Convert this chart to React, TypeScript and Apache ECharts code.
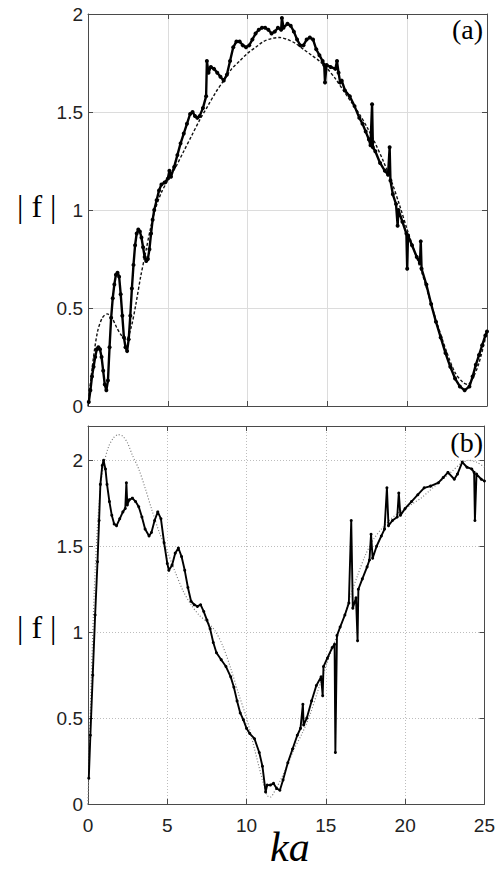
import React, { useEffect, useRef } from "react";
import * as echarts from "echarts";

const xTicks = [0, 5, 10, 15, 20, 25];
const panelLabels = ["(a)", "(b)"];
const yLabel = "| f |";
const xLabel = "ka";

// Panel (a): dashed reference curve
const aSmooth: number[][] = [
  [0, 0], [0.3, 0.22], [0.6, 0.38], [0.9, 0.45], [1.2, 0.47], [1.5, 0.45], [1.8, 0.4], [2.1, 0.36],
  [2.4, 0.34], [2.7, 0.4], [3.0, 0.52], [3.3, 0.66], [3.6, 0.78], [3.9, 0.9], [4.2, 1.0], [4.6, 1.09],
  [5.0, 1.15], [5.5, 1.22], [6, 1.3], [6.5, 1.38], [7, 1.46], [7.5, 1.53], [8, 1.6], [8.5, 1.66],
  [9, 1.72], [9.5, 1.76], [10, 1.8], [10.5, 1.83], [11, 1.86], [11.5, 1.875], [12, 1.88], [12.5, 1.87],
  [13, 1.85], [13.5, 1.82], [14, 1.79], [14.5, 1.76], [15, 1.72], [15.5, 1.67], [16, 1.61], [16.5, 1.55],
  [17, 1.49], [17.5, 1.42], [18, 1.34], [18.5, 1.25], [19, 1.15], [19.5, 1.03], [20, 0.9], [20.5, 0.78],
  [21, 0.66], [21.5, 0.52], [22, 0.39], [22.5, 0.27], [23, 0.17], [23.5, 0.12], [23.8, 0.11],
  [24.1, 0.14], [24.5, 0.22], [25, 0.38],
];

// Panel (a): computed curve with markers
const aComputed: number[][] = [
  [0.05, 0.02], [0.15, 0.08], [0.25, 0.15], [0.35, 0.2], [0.45, 0.25], [0.55, 0.29], [0.65, 0.3],
  [0.75, 0.29], [0.85, 0.25], [0.95, 0.18], [1.05, 0.11], [1.15, 0.08], [1.25, 0.13], [1.35, 0.3],
  [1.45, 0.45], [1.55, 0.55], [1.65, 0.62], [1.75, 0.67], [1.85, 0.68], [1.95, 0.66], [2.05, 0.57],
  [2.15, 0.46], [2.25, 0.35], [2.35, 0.3], [2.45, 0.28], [2.55, 0.34], [2.65, 0.46], [2.75, 0.6],
  [2.85, 0.72], [2.95, 0.82], [3.05, 0.88], [3.15, 0.9], [3.25, 0.89], [3.35, 0.86], [3.45, 0.81],
  [3.55, 0.76], [3.65, 0.74], [3.75, 0.75], [3.85, 0.8], [3.95, 0.88], [4.05, 0.95], [4.15, 1.0],
  [4.3, 1.05], [4.45, 1.1], [4.6, 1.13], [4.8, 1.14], [5.0, 1.16], [5.1, 1.2], [5.2, 1.17], [5.4, 1.22],
  [5.6, 1.28], [5.8, 1.34], [6.0, 1.39], [6.2, 1.44], [6.4, 1.49], [6.55, 1.5], [6.7, 1.48], [6.85, 1.47],
  [7.0, 1.48], [7.2, 1.52], [7.4, 1.58], [7.45, 1.76], [7.55, 1.7], [7.7, 1.73], [7.9, 1.72], [8.1, 1.7],
  [8.3, 1.68], [8.5, 1.66], [8.7, 1.69], [8.9, 1.76], [9.1, 1.83], [9.3, 1.86], [9.5, 1.86], [9.7, 1.84],
  [9.9, 1.83], [10.1, 1.84], [10.3, 1.87], [10.5, 1.9], [10.7, 1.92], [10.9, 1.93], [11.1, 1.93],
  [11.3, 1.92], [11.5, 1.9], [11.7, 1.91], [11.9, 1.93], [12.1, 1.92], [12.15, 1.98], [12.25, 1.93],
  [12.5, 1.95], [12.7, 1.94], [12.9, 1.91], [13.1, 1.87], [13.3, 1.84], [13.5, 1.84], [13.7, 1.87],
  [13.9, 1.88], [14.1, 1.87], [14.3, 1.82], [14.5, 1.79], [14.7, 1.76], [14.8, 1.74], [14.85, 1.65],
  [14.95, 1.74], [15.2, 1.73], [15.5, 1.72], [15.6, 1.76], [15.7, 1.7], [15.8, 1.65], [15.9, 1.66],
  [16.1, 1.61], [16.4, 1.58], [16.7, 1.53], [17.0, 1.47], [17.2, 1.44], [17.4, 1.4], [17.6, 1.36],
  [17.7, 1.33], [17.8, 1.54], [17.85, 1.32], [18.0, 1.3], [18.3, 1.24], [18.6, 1.2], [18.8, 1.18],
  [18.9, 1.32], [18.95, 1.15], [19.1, 1.08], [19.3, 1.03], [19.4, 0.92], [19.45, 1.0], [19.7, 0.94],
  [19.95, 0.88], [20.0, 0.7], [20.05, 0.87], [20.3, 0.82], [20.6, 0.76], [20.8, 0.73], [20.85, 0.84],
  [20.9, 0.7], [21.2, 0.62], [21.5, 0.52], [21.8, 0.43], [22.1, 0.35], [22.4, 0.27], [22.7, 0.2],
  [23.0, 0.14], [23.3, 0.1], [23.6, 0.08], [23.9, 0.1], [24.1, 0.15], [24.3, 0.21], [24.5, 0.26],
  [24.7, 0.31], [24.9, 0.36], [25, 0.38],
];

// Panel (b): dotted reference curve
const bSmooth: number[][] = [
  [0, 0], [0.2, 0.7], [0.4, 1.25], [0.6, 1.62], [0.8, 1.85], [1.0, 1.98], [1.3, 2.08], [1.6, 2.13],
  [1.9, 2.15], [2.2, 2.14], [2.5, 2.1], [2.8, 2.03], [3.2, 1.95], [3.6, 1.84], [4.0, 1.72], [4.5, 1.58],
  [5.0, 1.47], [5.5, 1.35], [6.0, 1.24], [6.5, 1.16], [7.0, 1.1], [7.5, 1.06], [8.0, 1.01], [8.5, 0.92],
  [9.0, 0.79], [9.5, 0.64], [10.0, 0.5], [10.5, 0.32], [11.0, 0.14], [11.3, 0.05], [11.5, 0.04],
  [11.8, 0.08], [12.2, 0.15], [12.6, 0.23], [13.0, 0.32], [13.5, 0.41], [14.0, 0.52], [14.5, 0.66],
  [15.0, 0.8], [15.5, 0.93], [16.0, 1.05], [16.5, 1.2], [17.0, 1.33], [17.5, 1.45], [18.0, 1.54],
  [18.5, 1.6], [19.0, 1.65], [19.5, 1.69], [20.0, 1.72], [20.5, 1.75], [21.0, 1.78], [21.5, 1.82],
  [22.0, 1.86], [22.5, 1.9], [23.0, 1.94], [23.5, 1.98], [24.0, 2.0], [24.5, 1.99], [25, 1.96],
];

// Panel (b): computed curve with markers
const bComputed: number[][] = [
  [0.05, 0.15], [0.15, 0.4], [0.3, 0.75], [0.45, 1.1], [0.6, 1.41], [0.7, 1.65], [0.78, 1.86],
  [0.9, 1.97], [0.98, 2.0], [1.1, 1.95], [1.2, 1.86], [1.35, 1.76], [1.5, 1.68], [1.65, 1.63],
  [1.8, 1.62], [2.0, 1.66], [2.2, 1.7], [2.35, 1.72], [2.42, 1.87], [2.48, 1.74], [2.6, 1.77],
  [2.8, 1.78], [3.0, 1.76], [3.2, 1.73], [3.4, 1.67], [3.6, 1.6], [3.85, 1.56], [4.0, 1.58], [4.2, 1.65],
  [4.4, 1.7], [4.6, 1.66], [4.8, 1.52], [5.0, 1.4], [5.1, 1.36], [5.3, 1.39], [5.5, 1.46], [5.7, 1.49],
  [5.9, 1.44], [6.1, 1.36], [6.3, 1.26], [6.5, 1.18], [6.7, 1.16], [6.9, 1.15], [7.1, 1.16], [7.3, 1.12],
  [7.5, 1.07], [7.7, 1.02], [7.9, 0.94], [8.1, 0.88], [8.4, 0.84], [8.7, 0.8], [9.0, 0.74], [9.2, 0.68],
  [9.4, 0.6], [9.6, 0.53], [9.8, 0.49], [10.0, 0.44], [10.2, 0.41], [10.5, 0.38], [10.8, 0.3],
  [11.0, 0.22], [11.2, 0.07], [11.3, 0.11], [11.5, 0.11], [11.7, 0.12], [11.9, 0.09], [12.1, 0.08],
  [12.3, 0.14], [12.6, 0.24], [12.9, 0.32], [13.2, 0.4], [13.4, 0.44], [13.55, 0.58], [13.6, 0.46],
  [13.8, 0.5], [14.1, 0.6], [14.4, 0.69], [14.7, 0.74], [14.8, 0.63], [14.85, 0.8], [15.1, 0.85],
  [15.4, 0.91], [15.55, 0.93], [15.6, 0.3], [15.7, 0.98], [15.9, 1.03], [16.2, 1.1], [16.45, 1.17],
  [16.6, 1.65], [16.7, 1.14], [16.9, 1.2], [17.0, 0.95], [17.05, 1.25], [17.3, 1.31], [17.6, 1.38],
  [17.75, 1.42], [17.85, 1.57], [17.95, 1.43], [18.2, 1.5], [18.5, 1.56], [18.7, 1.6], [18.85, 1.84],
  [18.95, 1.62], [19.2, 1.65], [19.5, 1.67], [19.6, 1.81], [19.7, 1.68], [20.0, 1.72], [20.4, 1.76],
  [20.8, 1.8], [21.2, 1.84], [21.6, 1.85], [22.1, 1.87], [22.4, 1.9], [22.7, 1.93], [23.1, 1.89],
  [23.3, 1.92], [23.6, 1.99], [23.9, 1.96], [24.2, 1.95], [24.35, 1.93], [24.4, 1.65], [24.5, 1.92],
  [24.8, 1.89], [25, 1.88],
];

const AXIS_COLOR = "#4a4a4a";
const LABEL_FONT = "'Liberation Sans', Arial, sans-serif";
const SERIF = "'Liberation Serif', 'DejaVu Serif', serif";

export default function App() {
  const ref = useRef<HTMLDivElement>(null);

  useEffect(() => {
    if (!ref.current) return;
    const chart = echarts.init(ref.current, undefined, { renderer: "svg" });

    const xMin = xTicks[0];
    const xMax = xTicks[xTicks.length - 1];
    const xInterval = xTicks[1] - xTicks[0];

    const mainX = (gridIndex: number, showLabels: boolean, dotted: boolean) => ({
      type: "value",
      gridIndex,
      min: xMin,
      max: xMax,
      interval: xInterval,
      axisLine: { lineStyle: { color: AXIS_COLOR, width: 1 } },
      axisTick: { show: true, inside: true, length: 5, lineStyle: { color: AXIS_COLOR } },
      axisLabel: {
        show: showLabels,
        color: "#222",
        fontSize: 19,
        fontFamily: LABEL_FONT,
        margin: 12,
      },
      splitLine: {
        show: true,
        lineStyle: { color: dotted ? "#bdbdbd" : "#dcdcdc", type: dotted ? [1, 2] : "solid", width: 1 },
      },
    });
    const boxX = (gridIndex: number) => ({
      type: "value",
      gridIndex,
      position: "top",
      min: xMin,
      max: xMax,
      interval: xInterval,
      axisLine: { show: true, onZero: false, lineStyle: { color: AXIS_COLOR, width: 1 } },
      axisTick: { show: true, inside: true, length: 5, lineStyle: { color: AXIS_COLOR } },
      axisLabel: { show: false },
      splitLine: { show: false },
    });
    const mainY = (gridIndex: number, max: number, dotted: boolean) => ({
      type: "value",
      gridIndex,
      min: 0,
      max,
      interval: 0.5,
      axisLine: { show: true, onZero: false, lineStyle: { color: AXIS_COLOR, width: 1 } },
      axisTick: { show: true, inside: true, length: 5, lineStyle: { color: AXIS_COLOR } },
      axisLabel: {
        color: "#222",
        fontSize: 19,
        fontFamily: LABEL_FONT,
        margin: 5,
        showMaxLabel: max === 2,
        formatter: (v: number) => (Math.abs(v * 2 - Math.round(v * 2)) < 1e-6 ? String(v) : ""),
      },
      splitLine: {
        show: true,
        lineStyle: { color: dotted ? "#bdbdbd" : "#dcdcdc", type: dotted ? [1, 2] : "solid", width: 1 },
      },
    });
    const boxY = (gridIndex: number, max: number) => ({
      type: "value",
      gridIndex,
      position: "right",
      min: 0,
      max,
      interval: 0.5,
      axisLine: { show: true, onZero: false, lineStyle: { color: AXIS_COLOR, width: 1 } },
      axisTick: { show: true, inside: true, length: 5, lineStyle: { color: AXIS_COLOR } },
      axisLabel: { show: false },
      splitLine: { show: false },
    });

    chart.setOption({
      animation: false,
      backgroundColor: "#ffffff",
      grid: [
        { left: 88, top: 14, width: 399, height: 392 },
        { left: 88, top: 426, width: 399, height: 378 },
      ],
      xAxis: [mainX(0, false, false), mainX(1, true, true), boxX(0), boxX(1)],
      yAxis: [mainY(0, 2, false), mainY(1, 2.2, true), boxY(0, 2), boxY(1, 2.2)],
      series: [
        {
          type: "line",
          xAxisIndex: 0,
          yAxisIndex: 0,
          data: aSmooth,
          smooth: 0.3,
          symbol: "none",
          lineStyle: { color: "#111", width: 1.4, type: [3, 2] },
          z: 2,
        },
        {
          type: "line",
          xAxisIndex: 0,
          yAxisIndex: 0,
          data: aComputed,
          symbol: "circle",
          symbolSize: 4,
          itemStyle: { color: "#000" },
          lineStyle: { color: "#000", width: 2.4 },
          z: 3,
        },
        {
          type: "line",
          xAxisIndex: 1,
          yAxisIndex: 1,
          data: bSmooth,
          smooth: 0.3,
          symbol: "none",
          lineStyle: { color: "#7a7a7a", width: 1.2, type: [1, 2] },
          z: 2,
        },
        {
          type: "line",
          xAxisIndex: 1,
          yAxisIndex: 1,
          data: bComputed,
          symbol: "circle",
          symbolSize: 3,
          itemStyle: { color: "#000" },
          lineStyle: { color: "#000", width: 1.9 },
          z: 3,
        },
      ],
      graphic: [
        {
          type: "text",
          left: 17,
          top: 190,
          style: { text: yLabel, fontSize: 32, fontFamily: SERIF, fill: "#000" },
        },
        {
          type: "text",
          left: 17,
          top: 611,
          style: { text: yLabel, fontSize: 32, fontFamily: SERIF, fill: "#000" },
        },
        {
          type: "text",
          right: 15,
          top: 15,
          style: { text: panelLabels[0], fontSize: 28, fontFamily: SERIF, fill: "#000" },
        },
        {
          type: "text",
          right: 15,
          top: 428,
          style: { text: panelLabels[1], fontSize: 28, fontFamily: SERIF, fill: "#000" },
        },
        {
          type: "text",
          left: 270,
          top: 826,
          style: { text: xLabel, fontSize: 42, fontStyle: "italic", fontFamily: SERIF, fill: "#000" },
        },
      ],
    });

    return () => chart.dispose();
  }, []);

  return (
    <div
      ref={ref}
      style={{ position: "absolute", left: 0, top: 0, width: 498, height: 869, background: "#fff" }}
    />
  );
}
